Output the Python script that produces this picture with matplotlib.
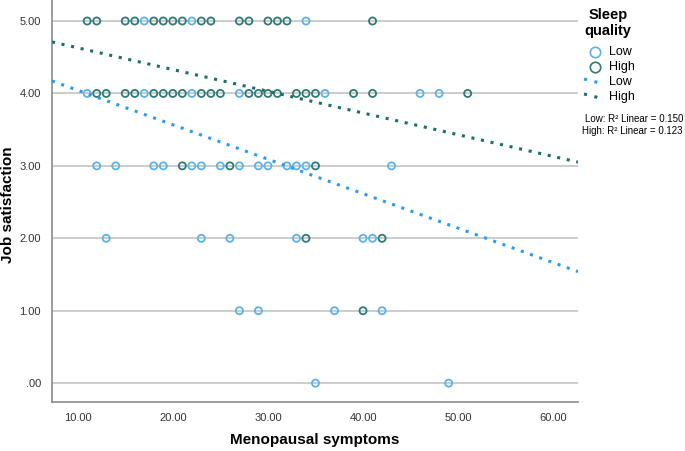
import matplotlib
matplotlib.use("Agg")
import matplotlib.pyplot as plt
from matplotlib.lines import Line2D
import numpy as np

plt.rcParams['font.family'] = ['Liberation Sans', 'DejaVu Sans']

# ---- data ----
low_x = [17, 22, 34,
         11, 17, 22, 27, 36, 46, 48,
         12, 14, 18, 19, 22, 23, 25, 27, 29, 30, 32, 33, 34, 43,
         13, 23, 26, 33, 40, 41,
         27, 29, 37, 42,
         35, 49]
low_y = [5, 5, 5,
         4, 4, 4, 4, 4, 4, 4,
         3, 3, 3, 3, 3, 3, 3, 3, 3, 3, 3, 3, 3, 3,
         2, 2, 2, 2, 2, 2,
         1, 1, 1, 1,
         0, 0]
high_x = [11, 12, 15, 16, 18, 19, 20, 21, 23, 24, 27, 28, 30, 31, 32, 41,
          12, 13, 15, 16, 18, 19, 20, 21, 23, 24, 25, 28, 29, 30, 31, 33, 34, 35, 39, 41, 51,
          21, 26, 35,
          34, 42,
          40]
high_y = [5] * 16 + [4] * 21 + [3] * 3 + [2] * 2 + [1]

# fitted linear regression lines (intercept, slope)
low_fit = (4.52, -0.0476)
high_fit = (4.93, -0.0300)
r2_low = 0.150
r2_high = 0.123

xticks = [10, 20, 30, 40, 50, 60]
yticks = [0, 1, 2, 3, 4, 5]

LOW_C = '#5BB3E8'
HIGH_C = '#2F7A76'
LOW_LINE = '#2A9BEF'
HIGH_LINE = '#1C6E69'

W, H = 685, 451
fig = plt.figure(figsize=(W / 100, H / 100), dpi=100)
ax = fig.add_axes([52 / W, 1 - 402 / H, (578 - 52) / W, 402 / H])

xmin, xmax = 7.3, 62.6
ax.set_xlim(xmin, xmax)
ax.set_ylim(-0.26, 5.29)

for yv in yticks:
    ax.axhline(yv, color='#C8C8C8', lw=1.3, zorder=1)

ax.scatter(low_x, low_y, s=26, facecolors='none', edgecolors=LOW_C, linewidths=1.3, zorder=3)
ax.scatter(high_x, high_y, s=26, facecolors='none', edgecolors=HIGH_C, linewidths=1.3, zorder=3)

xs = np.array([xmin, xmax])
ax.plot(xs, low_fit[0] + low_fit[1] * xs, color=LOW_LINE, lw=2.2, ls=(0, (1, 2.2)), zorder=4)
ax.plot(xs, high_fit[0] + high_fit[1] * xs, color=HIGH_LINE, lw=2.2, ls=(0, (1, 2.2)), zorder=4)

ax.set_xticks(xticks)
ax.set_xticklabels([f"{v:.2f}" for v in xticks])
ax.set_yticks(yticks)
ax.set_yticklabels([".00" if v == 0 else f"{v:.2f}" for v in yticks])
ax.tick_params(length=0, labelsize=8, colors='#333333', pad=8)

for s in ['top', 'right']:
    ax.spines[s].set_visible(False)
for s in ['left', 'bottom']:
    ax.spines[s].set_color('#8A8A8A')
    ax.spines[s].set_linewidth(1.2)

fig.text(315 / W, 1 - 440 / H, "Menopausal symptoms", ha='center', va='center',
         fontsize=11, fontweight='bold')
fig.text(8 / W, 1 - 205 / H, "Job satisfaction", ha='center', va='center',
         rotation=90, fontsize=11, fontweight='bold')

# legend
fig.text(608 / W, 1 - 15 / H, "Sleep", ha='center', va='center', fontsize=10.5, fontweight='bold')
fig.text(608 / W, 1 - 31 / H, "quality", ha='center', va='center', fontsize=10.5, fontweight='bold')
for yy, c, lab in [(52, LOW_C, "Low"), (67, HIGH_C, "High")]:
    fig.add_artist(Line2D([595 / W], [1 - yy / H], marker='o', markersize=7.5,
                          markerfacecolor='none', markeredgecolor=c, markeredgewidth=1.2,
                          ls='none', transform=fig.transFigure))
    fig.text(609 / W, 1 - yy / H, lab, ha='left', va='center', fontsize=9)
for yy, c, lab in [(82, LOW_LINE, "Low"), (97, HIGH_LINE, "High")]:
    fig.add_artist(Line2D([584 / W, 604 / W], [1 - (yy - 3) / H, 1 - (yy + 2) / H],
                          color=c, lw=2.2, ls=(0, (1, 2.5)), transform=fig.transFigure))
    fig.text(609 / W, 1 - yy / H, lab, ha='left', va='center', fontsize=9)
fig.text(683 / W, 1 - 119 / H, f"Low: R² Linear = {r2_low:.3f}", ha='right', va='center', fontsize=7)
fig.text(683 / W, 1 - 131 / H, f"High: R² Linear = {r2_high:.3f}", ha='right', va='center', fontsize=7)

fig.savefig("out.png", dpi=100)
